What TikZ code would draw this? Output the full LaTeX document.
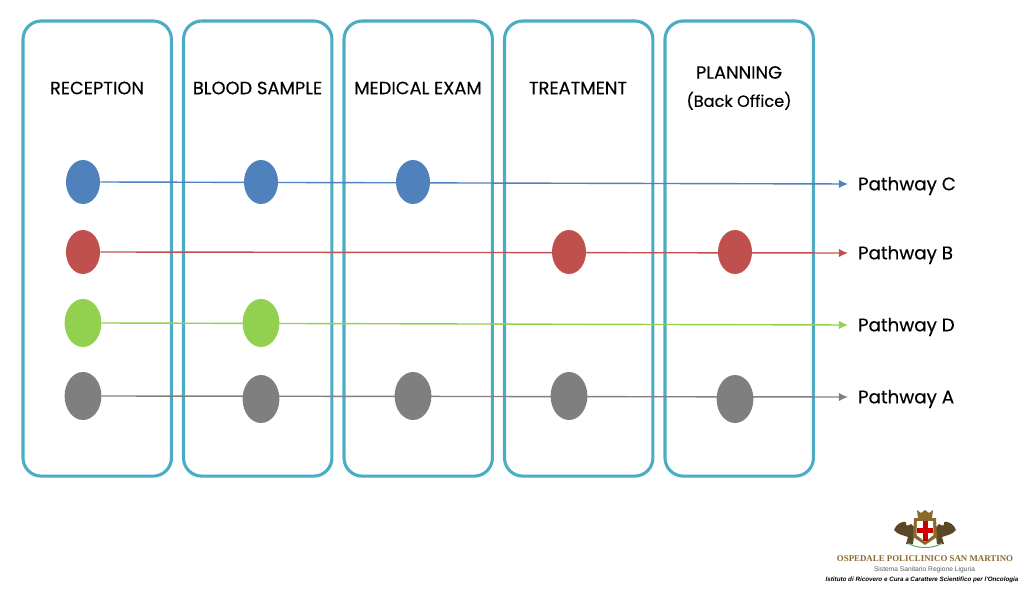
\documentclass[tikz,border=0pt]{standalone}
\usepackage{fontspec}
\setmainfont{Poppins}
\newfontfamily\logoserif{Liberation Serif}
\newfontfamily\logosans{Liberation Sans}
\usetikzlibrary{arrows.meta,shapes.geometric}
\definecolor{laneblue}{HTML}{4BACC6}
\definecolor{pathC}{HTML}{4F81BD}
\definecolor{pathB}{HTML}{C0504D}
\definecolor{pathD}{HTML}{92D050}
\definecolor{pathA}{HTML}{7F7F7F}
\definecolor{logogold}{HTML}{8A6A2C}
\definecolor{logobrown}{HTML}{5A4726}
\newfontface\titlefont[FakeBold=0.25]{Poppins}
\tikzset{
  lane/.style={draw=laneblue,line width=2.2pt,rounded corners=13pt,inner sep=0pt,outer sep=0pt,minimum width=3.71cm,minimum height=11.375cm,anchor=north west},
  title/.style={font=\titlefont\fontsize{12.7}{20}\selectfont,align=center,text=black},
  stop/.style={ellipse,fill=#1,draw=none,inner sep=0pt,minimum width=.85cm,minimum height=1.1cm},
  bigstop/.style={ellipse,fill=#1,draw=none,inner sep=0pt,minimum width=.92cm,minimum height=1.2cm},
  pathlabel/.style={anchor=west,inner sep=0pt,outer sep=7.1pt,font=\titlefont\fontsize{13}{15}\selectfont,text height=9pt,text depth=0pt},
  route/.style={draw=#1,line width=1pt,-{Latex[length=6.5pt,width=6pt]}},
  logotext/.style={inner sep=0pt,anchor=center}
}
\begin{document}
\begin{tikzpicture}[x=.025cm,y=-.025cm]
  \useasboundingbox (0,0) rectangle (1024,596);
  \node[lane] (reception) at (23,21) {};
  \node[lane] (blood) at (183.5,21) {};
  \node[lane] (exam) at (344,21) {};
  \node[lane] (treatment) at (504.5,21) {};
  \node[lane] (planning) at (665,21) {};
  \node[title] (receptiontitle) at (97,88) {RECEPTION};
  \node[title] (bloodtitle) at (257.5,88) {BLOOD SAMPLE};
  \node[title] (examtitle) at (418,88) {MEDICAL EXAM};
  \node[title] (treatmenttitle) at (578,88) {TREATMENT};
  \node[title] (planningtitle) at (739,88) {PLANNING\\{\fontsize{11.5}{20}\selectfont(Back Office)}};
  % labels
  \node[pathlabel] (labelC) at (848,184) {Pathway C};
  \node[pathlabel] (labelB) at (848,253) {Pathway B};
  \node[pathlabel] (labelD) at (848,325) {Pathway D};
  \node[pathlabel] (labelA) at (848,397) {Pathway A};
  % pathway C
  \node[stop=pathC] (c1) at (83,182) {};
  \node[stop=pathC] (c2) at (261,182) {};
  \node[stop=pathC] (c3) at (413,182) {};
  \draw[route=pathC] (c1.east) -- (labelC.west);
  % pathway B
  \node[stop=pathB] (b1) at (83,252) {};
  \node[stop=pathB] (b2) at (569,252) {};
  \node[stop=pathB] (b3) at (735,252) {};
  \draw[route=pathB] (b1.east) -- (labelB.west);
  % pathway D
  \node[bigstop=pathD] (d1) at (83,323) {};
  \node[bigstop=pathD] (d2) at (261,323) {};
  \draw[route=pathD] (d1.east) -- (labelD.west);
  % pathway A
  \node[bigstop=pathA] (a1) at (83,396) {};
  \node[bigstop=pathA] (a2) at (261,399) {};
  \node[bigstop=pathA] (a3) at (413,396) {};
  \node[bigstop=pathA] (a4) at (569,396) {};
  \node[bigstop=pathA] (a5) at (735,399) {};
  \draw[route=pathA] (a1.east) -- (labelA.west);
  % crest
  \fill[logobrown] (894,530) .. controls (896,524) and (902,521) .. (906,522) .. controls (905,525) and (907,527) .. (911,524) -- (915,528) -- (913,544) -- (906,544) -- (908,537) .. controls (903,535) and (898,535) .. (894,530) -- cycle;
  \fill[logobrown] (956,530) .. controls (954,524) and (948,521) .. (944,522) .. controls (945,525) and (943,527) .. (939,524) -- (935,528) -- (937,544) -- (944,544) -- (942,537) .. controls (947,535) and (952,535) .. (956,530) -- cycle;
  \fill[logogold] (917,510) -- (921,513) -- (925,510) -- (929,513) -- (933,510) -- (932,518) -- (918,518) -- cycle;
  \fill[logogold] (914,518) -- (936,518) -- (937,537) -- (925,545) -- (913,537) -- cycle;
  \fill[white] (917,521) -- (933,521) -- (933.5,535) -- (925,541.5) -- (916.5,535) -- cycle;
  \fill[red!80!black] (922.5,521) rectangle (927.5,541);
  \fill[red!80!black] (916.8,528) rectangle (933.3,533);
  \draw[green!35!gray,line width=.7pt] (908,543) .. controls (916,549) and (934,549) .. (942,543);
  % hospital name
  \node[logotext,font=\logoserif\bfseries\fontsize{6.3}{7}\selectfont,text=logogold] (logoname) at (925,559) {OSPEDALE POLICLINICO SAN MARTINO};
  \node[logotext,font=\logosans\fontsize{4.75}{5}\selectfont,text=black!65] (logoregion) at (924.5,569.5) {Sistema Sanitario Regione Liguria};
  \node[logotext,font=\logosans\itshape\bfseries\fontsize{4.45}{5}\selectfont,text=black] (logoinstitute) at (922,580) {Istituto di Ricovero e Cura a Carattere Scientifico per l'Oncologia};
\end{tikzpicture}
\end{document}
